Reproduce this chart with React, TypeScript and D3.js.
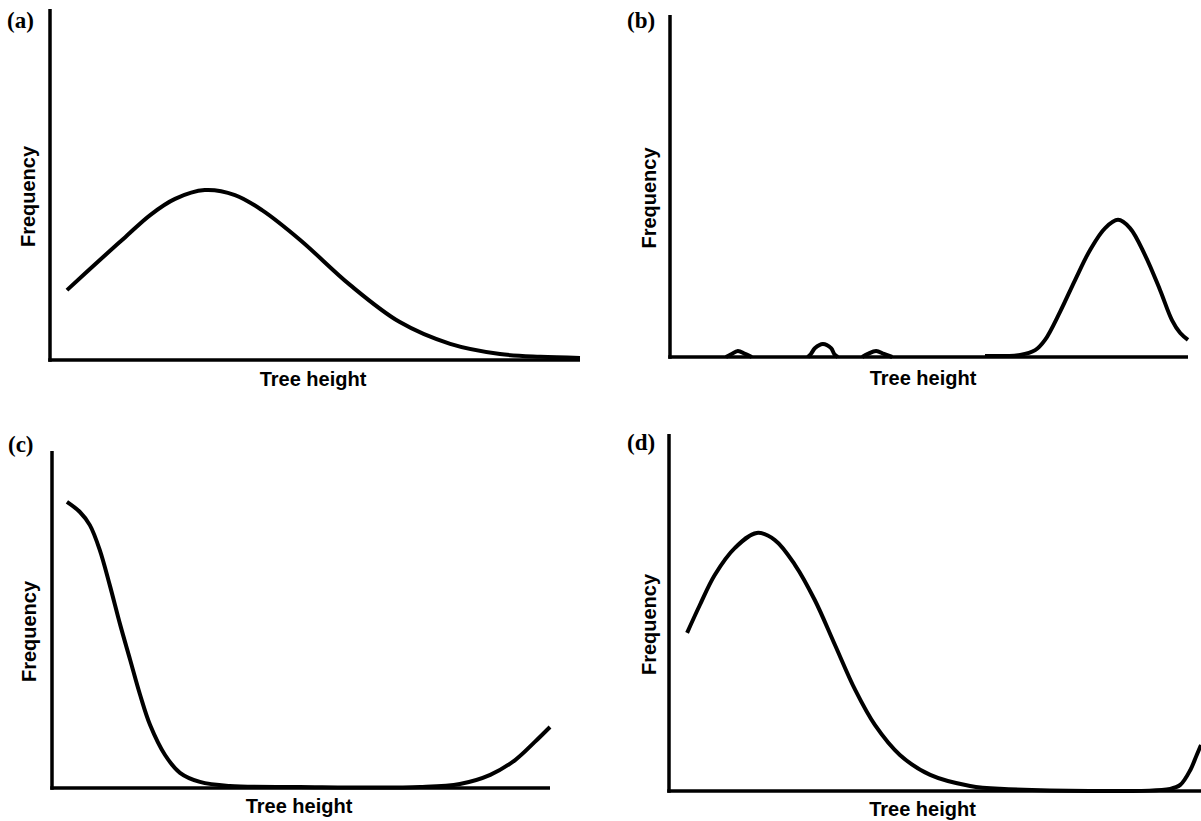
import React from 'react'
import * as d3 from 'd3'

// tree height (0-100, left to right) and frequency (0-100)
const aHeight = [3.2, 9.4, 14.2, 18.9, 23.6, 29.2, 34.9, 40.0, 47.2, 56.6, 66.0, 75.5, 84.9, 92.5, 100]
const aFreq = [19.9, 28.5, 35.0, 41.3, 45.9, 48.4, 47.0, 42.7, 34.2, 21.4, 10.8, 4.6, 1.7, 0.9, 0.6]

// null = gap between the little bumps in (b)
const bHeight = [10.8, 11.8, 13.1, 14.5, 15.8, null, 26.6, 27.2, 28.0, 29.5, 31.1, 31.7, 32.4, null,
  37.1, 38.2, 39.8, 41.3, 42.9, null,
  60.8, 67.6, 70.5, 72.4, 75.3, 78.2, 81.1, 84.0, 86.5, 88.8, 91.7, 94.6, 96.9, 98.5, 100]
const bFreq = [0, 0.8, 1.75, 0.9, 0, null, 0, 0.9, 2.6, 3.8, 2.6, 0.9, 0, null,
  0, 0.9, 1.75, 0.9, 0, null,
  0.3, 0.6, 2.0, 5.0, 13.2, 22.5, 31.3, 37.7, 40.1, 37.7, 29.8, 19.6, 10.8, 7.0, 5.0]

const cHeight = [3.0, 5.6, 7.6, 9.6, 11.6, 13.7, 15.7, 17.7, 19.7, 22.7, 25.7, 29.7, 35.7, 49.8, 73.9, 81.9, 88.0, 93.0, 96.9, 100]
const cFreq = [84.9, 81.9, 78.0, 70.6, 60.2, 48.4, 38.0, 27.6, 18.7, 9.8, 4.5, 1.8, 0.6, 0.3, 0.3, 1.2, 3.9, 8.3, 13.6, 18.1]

const dHeight = [3.4, 5.8, 8.6, 12.4, 16.5, 19.9, 23.7, 27.4, 31.2, 35.0, 38.7, 43.4, 49.1, 56.6, 62.2, 94.2, 96.1, 98.0, 99.2, 100]
const dFreq = [44.3, 52.1, 60.5, 68.1, 72.3, 70.3, 63.3, 53.5, 40.9, 28.3, 18.5, 10.1, 4.5, 1.4, 0.6, 0.6, 1.7, 5.9, 10.1, 12.9]

const panelLabels = ['(a)', '(b)', '(c)', '(d)']
const xTitle = 'Tree height'
const yTitle = 'Frequency'

const panels = [
  { label: panelLabels[0], xs: aHeight, ys: aFreq, left: 50, right: 580, top: 9, bottom: 360, labelX: 7, labelY: 28, yTitleX: 35, xTitleY: 386 },
  { label: panelLabels[1], xs: bHeight, ys: bFreq, left: 670, right: 1188, top: 15, bottom: 357, labelX: 627, labelY: 28, yTitleX: 656, xTitleY: 385 },
  { label: panelLabels[2], xs: cHeight, ys: cFreq, left: 52, right: 550, top: 451, bottom: 788, labelX: 8, labelY: 452, yTitleX: 36, xTitleY: 813 },
  { label: panelLabels[3], xs: dHeight, ys: dFreq, left: 669, right: 1201, top: 434, bottom: 791, labelX: 627, labelY: 450, yTitleX: 656, xTitleY: 816 },
]

const Panel = ({ p }: { p: any }) => {
  const x = d3.scaleLinear().domain([0, 100]).range([p.left, p.right])
  const y = d3.scaleLinear().domain([0, 100]).range([p.bottom, p.top])
  const pts = p.xs.map((v: any, i: number) => [v, p.ys[i]])
  const line = d3.line<any>()
    .defined(d => d[0] != null)
    .x(d => x(d[0]))
    .y(d => y(d[1]))
    .curve(d3.curveCatmullRom)
  const midY = (p.top + p.bottom) / 2 + 12
  return (
    <g>
      <path d={line(pts) || ''} fill="none" stroke="#000" strokeWidth={4} strokeLinejoin="round" />
      <line x1={p.left} x2={p.left} y1={p.top} y2={p.bottom + 1.75} stroke="#000" strokeWidth={3.5} />
      <line x1={p.left - 1.75} x2={p.right} y1={p.bottom} y2={p.bottom} stroke="#000" strokeWidth={3.5} />
      <text x={p.labelX} y={p.labelY} fontFamily="'Liberation Serif', serif" fontWeight="bold" fontSize={23}>{p.label}</text>
      <text x={(p.left + Math.min(p.right, 1180)) / 2 - 2} y={p.xTitleY} textAnchor="middle"
        fontFamily="'Liberation Sans', Arial, sans-serif" fontWeight="bold" fontSize={20}>{xTitle}</text>
      <text transform={`translate(${p.yTitleX},${midY}) rotate(-90)`} textAnchor="middle"
        fontFamily="'Liberation Sans', Arial, sans-serif" fontWeight="bold" fontSize={20}>{yTitle}</text>
    </g>
  )
}

const App = () => {
  const width = 1201
  const height = 821
  return (
    <svg width={width} height={height} style={{ position: 'absolute', left: 0, top: 0, background: '#fff' }}>
      {panels.map((p, i) => <Panel key={i} p={p} />)}
    </svg>
  )
}

export default App
